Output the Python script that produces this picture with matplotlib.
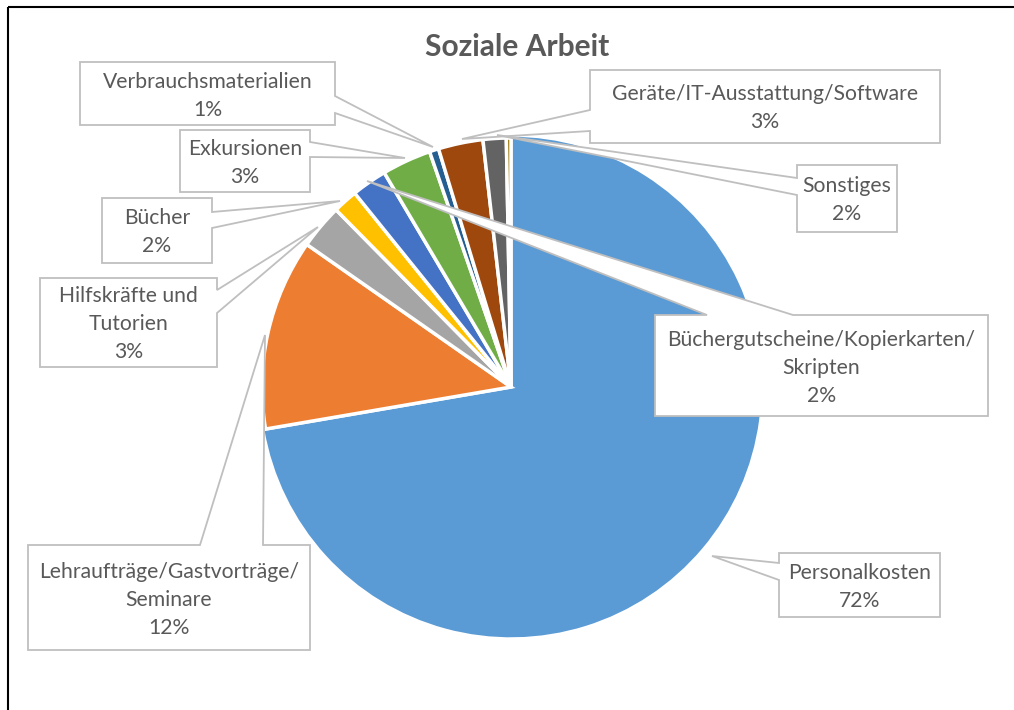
import matplotlib.pyplot as plt
from matplotlib.patches import Polygon, Rectangle

plt.rcParams["font.family"] = ["Lato", "DejaVu Sans"]

# Daten (Anteile in %, aus dem Bild geschätzt)
kategorien = [
    "Personalkosten",
    "Lehraufträge/Gastvorträge/\nSeminare",
    "Hilfskräfte und\nTutorien",
    "Bücher",
    "Büchergutscheine/Kopierkarten/\nSkripten",
    "Exkursionen",
    "Verbrauchsmaterialien",
    "Geräte/IT-Ausstattung/Software",
    "Sonstiges",
    "",
]
anteile = [72.3, 12.4, 2.9, 1.6, 2.3, 3.2, 0.6, 2.9, 1.5, 0.3]
farben = ["#5B9BD5", "#ED7D31", "#A5A5A5", "#FFC000", "#4472C4",
          "#70AD47", "#255E91", "#9E480E", "#636363", "#997300"]
explode = [0.035, 0, 0, 0, 0, 0, 0, 0, 0, 0]

# Position der Beschriftungen (Pixel): Box, Seite des Zeigers, Ansatz, Spitze
label_layout = [
    ((779, 553, 940, 617), "left", (563, 580), (712, 556)),
    ((28, 545, 310, 650), "top", (200, 263), (265, 335)),
    ((40, 278, 217, 367), "right", (290, 313), (318, 227)),
    ((102, 198, 212, 263), "right", (212, 228), (340, 201)),
    ((655, 315, 988, 416), "top", (707, 793), (367, 181)),
    ((180, 130, 310, 192), "right", (142, 157), (405, 158)),
    ((80, 62, 335, 125), "right", (96, 113), (433, 147)),
    ((590, 70, 940, 143), "left", (110, 131), (462, 139)),
    ((797, 165, 897, 232), "left", (178, 195), (497, 135)),
    None,
]

fig = plt.figure(figsize=(10.14, 7.10), dpi=100)
ax = fig.add_axes([0, 0, 1, 1])

wedges, _ = ax.pie(anteile, colors=farben, explode=explode, startangle=270,
                   center=(511, 387), radius=249,
                   wedgeprops=dict(edgecolor="white", linewidth=2.5))
# das herausgezogene Segment ist im Original etwas größer
wedges[0].set_radius(252)

ax.set_xlim(0, 1014)
ax.set_ylim(710, 0)
ax.set_aspect("auto")
ax.axis("off")

# Rahmen
ax.add_patch(Rectangle((8, 7), 1020, 720, fill=False, edgecolor="black",
                       linewidth=1.5, zorder=1))

ax.text(517, 47, "Soziale Arbeit", ha="center", va="center", fontsize=21.5,
        fontweight="bold", color="#595959")


def callout_punkte(box, seite, ansatz, spitze):
    x0, y0, x1, y1 = box
    a, b = ansatz
    if seite == "right":
        return [(x0, y0), (x1, y0), (x1, a), spitze, (x1, b), (x1, y1), (x0, y1)]
    if seite == "left":
        return [(x0, y0), (x1, y0), (x1, y1), (x0, y1), (x0, b), spitze, (x0, a)]
    return [(x0, y0), (a, y0), spitze, (b, y0), (x1, y0), (x1, y1), (x0, y1)]


for name, wert, lay in zip(kategorien, anteile, label_layout):
    if lay is None:
        continue
    box, seite, ansatz, spitze = lay
    ax.add_patch(Polygon(callout_punkte(box, seite, ansatz, spitze), closed=True,
                         facecolor="white", edgecolor="#BFBFBF", linewidth=1.3,
                         zorder=3))
    ax.text((box[0] + box[2]) / 2, (box[1] + box[3]) / 2 + 2,
            f"{name}\n{round(wert)}%", ha="center", va="center",
            fontsize=15.2, color="#595959", linespacing=1.5, zorder=4)

fig.savefig("out.png", dpi=100)
